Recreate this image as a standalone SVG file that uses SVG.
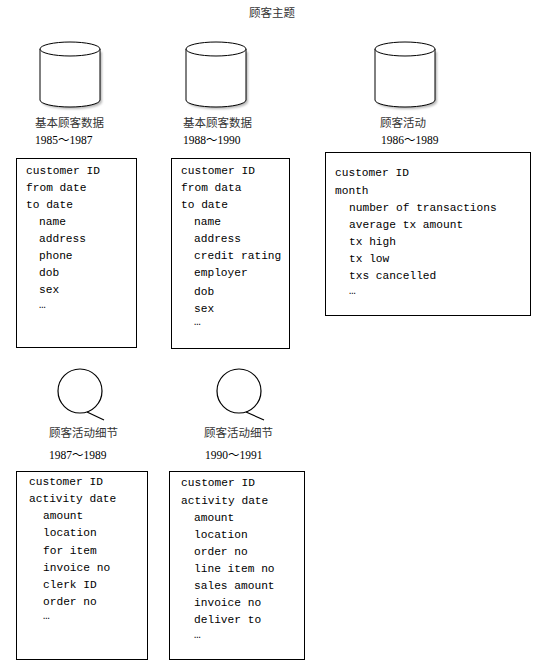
<svg xmlns="http://www.w3.org/2000/svg" width="542" height="672" viewBox="0 0 542 672">
<style>
.cn{font-family:"Liberation Serif","Noto Sans CJK SC",serif;font-size:11.5px;fill:#333}
.num{font-family:"Liberation Serif","Noto Sans CJK SC",serif;font-size:11.5px;fill:#000}
.mono{font-family:"Liberation Mono","Courier New",monospace;font-size:11.2px;fill:#000}
.box{fill:#fff;stroke:#000;stroke-width:1}
.cyl{fill:#fff;stroke:#000;stroke-width:1}
.shadow{fill:#888;opacity:0.6;filter:url(#blur)}
.mag{fill:none;stroke:#000;stroke-width:1.2}
</style>
<defs>
<filter id="blur" x="-20%" y="-20%" width="140%" height="140%"><feGaussianBlur stdDeviation="1"/></filter>
<g id="cylshape">
<path class="shadow" d="M2,3 V53 A30,7 0 0 0 62,53 V3 Z"/>
<path class="cyl" d="M0,0 V51 A30,7 0 0 0 60,51 V0"/>
<ellipse class="cyl" cx="30" cy="0" rx="30" ry="7"/>
</g>
</defs>
<rect width="542" height="672" fill="#fff"/>
<text class="cn" x="272" y="17" text-anchor="middle">顾客主题</text>

<g id="node-basic1">
<use href="#cylshape" x="40" y="49"/>
<text class="cn" x="35" y="127">基本顾客数据</text>
<text class="num" x="35" y="144">1985～1987</text>
<rect class="box" x="16.5" y="158.5" width="120" height="189"/>
<text class="mono" x="26" y="174">customer ID</text>
<text class="mono" x="26" y="191">from date</text>
<text class="mono" x="26" y="208">to date</text>
<text class="mono" x="39" y="225">name</text>
<text class="mono" x="39" y="242">address</text>
<text class="mono" x="39" y="259">phone</text>
<text class="mono" x="39" y="276">dob</text>
<text class="mono" x="39" y="293">sex</text>
<text class="mono" x="39" y="308">…</text>
</g>

<g id="node-basic2">
<use href="#cylshape" x="186" y="49"/>
<text class="cn" x="183" y="127">基本顾客数据</text>
<text class="num" x="183" y="144">1988～1990</text>
<rect class="box" x="171.5" y="158.5" width="118" height="190"/>
<text class="mono" x="181" y="174">customer ID</text>
<text class="mono" x="181" y="191">from data</text>
<text class="mono" x="181" y="208">to date</text>
<text class="mono" x="194" y="225">name</text>
<text class="mono" x="194" y="242">address</text>
<text class="mono" x="194" y="259">credit rating</text>
<text class="mono" x="194" y="276">employer</text>
<text class="mono" x="194" y="295">dob</text>
<text class="mono" x="194" y="312">sex</text>
<text class="mono" x="194" y="325">…</text>
</g>

<g id="node-activity">
<use href="#cylshape" x="375" y="49"/>
<text class="cn" x="380" y="127">顾客活动</text>
<text class="num" x="381" y="144">1986～1989</text>
<rect class="box" x="325.5" y="152.5" width="205" height="163"/>
<text class="mono" x="335" y="176">customer ID</text>
<text class="mono" x="335" y="194">month</text>
<text class="mono" x="349" y="211">number of transactions</text>
<text class="mono" x="349" y="228">average tx amount</text>
<text class="mono" x="349" y="245">tx high</text>
<text class="mono" x="349" y="262">tx low</text>
<text class="mono" x="349" y="279">txs cancelled</text>
<text class="mono" x="349" y="294">…</text>
</g>

<g id="node-detail1">
<circle class="mag" cx="80" cy="391" r="22"/>
<line class="mag" x1="87" y1="412" x2="104" y2="420"/>
<text class="cn" x="49" y="437">顾客活动细节</text>
<text class="num" x="49" y="459">1987～1989</text>
<rect class="box" x="16.5" y="471.5" width="131" height="188"/>
<text class="mono" x="29" y="485">customer ID</text>
<text class="mono" x="29" y="502">activity date</text>
<text class="mono" x="43" y="519">amount</text>
<text class="mono" x="43" y="536">location</text>
<text class="mono" x="43" y="554">for item</text>
<text class="mono" x="43" y="571">invoice no</text>
<text class="mono" x="43" y="588">clerk ID</text>
<text class="mono" x="43" y="605">order no</text>
<text class="mono" x="43" y="619">…</text>
</g>

<g id="node-detail2">
<circle class="mag" cx="239" cy="391" r="22"/>
<line class="mag" x1="246" y1="412" x2="264" y2="420"/>
<text class="cn" x="204" y="437">顾客活动细节</text>
<text class="num" x="205" y="459">1990～1991</text>
<rect class="box" x="169.5" y="471.5" width="135" height="188"/>
<text class="mono" x="181" y="486">customer ID</text>
<text class="mono" x="181" y="504">activity date</text>
<text class="mono" x="194" y="521">amount</text>
<text class="mono" x="194" y="538">location</text>
<text class="mono" x="194" y="555">order no</text>
<text class="mono" x="194" y="572">line item no</text>
<text class="mono" x="194" y="589">sales amount</text>
<text class="mono" x="194" y="606">invoice no</text>
<text class="mono" x="194" y="623">deliver to</text>
<text class="mono" x="194" y="638">…</text>
</g>

<g id="connectors"></g>
</svg>
